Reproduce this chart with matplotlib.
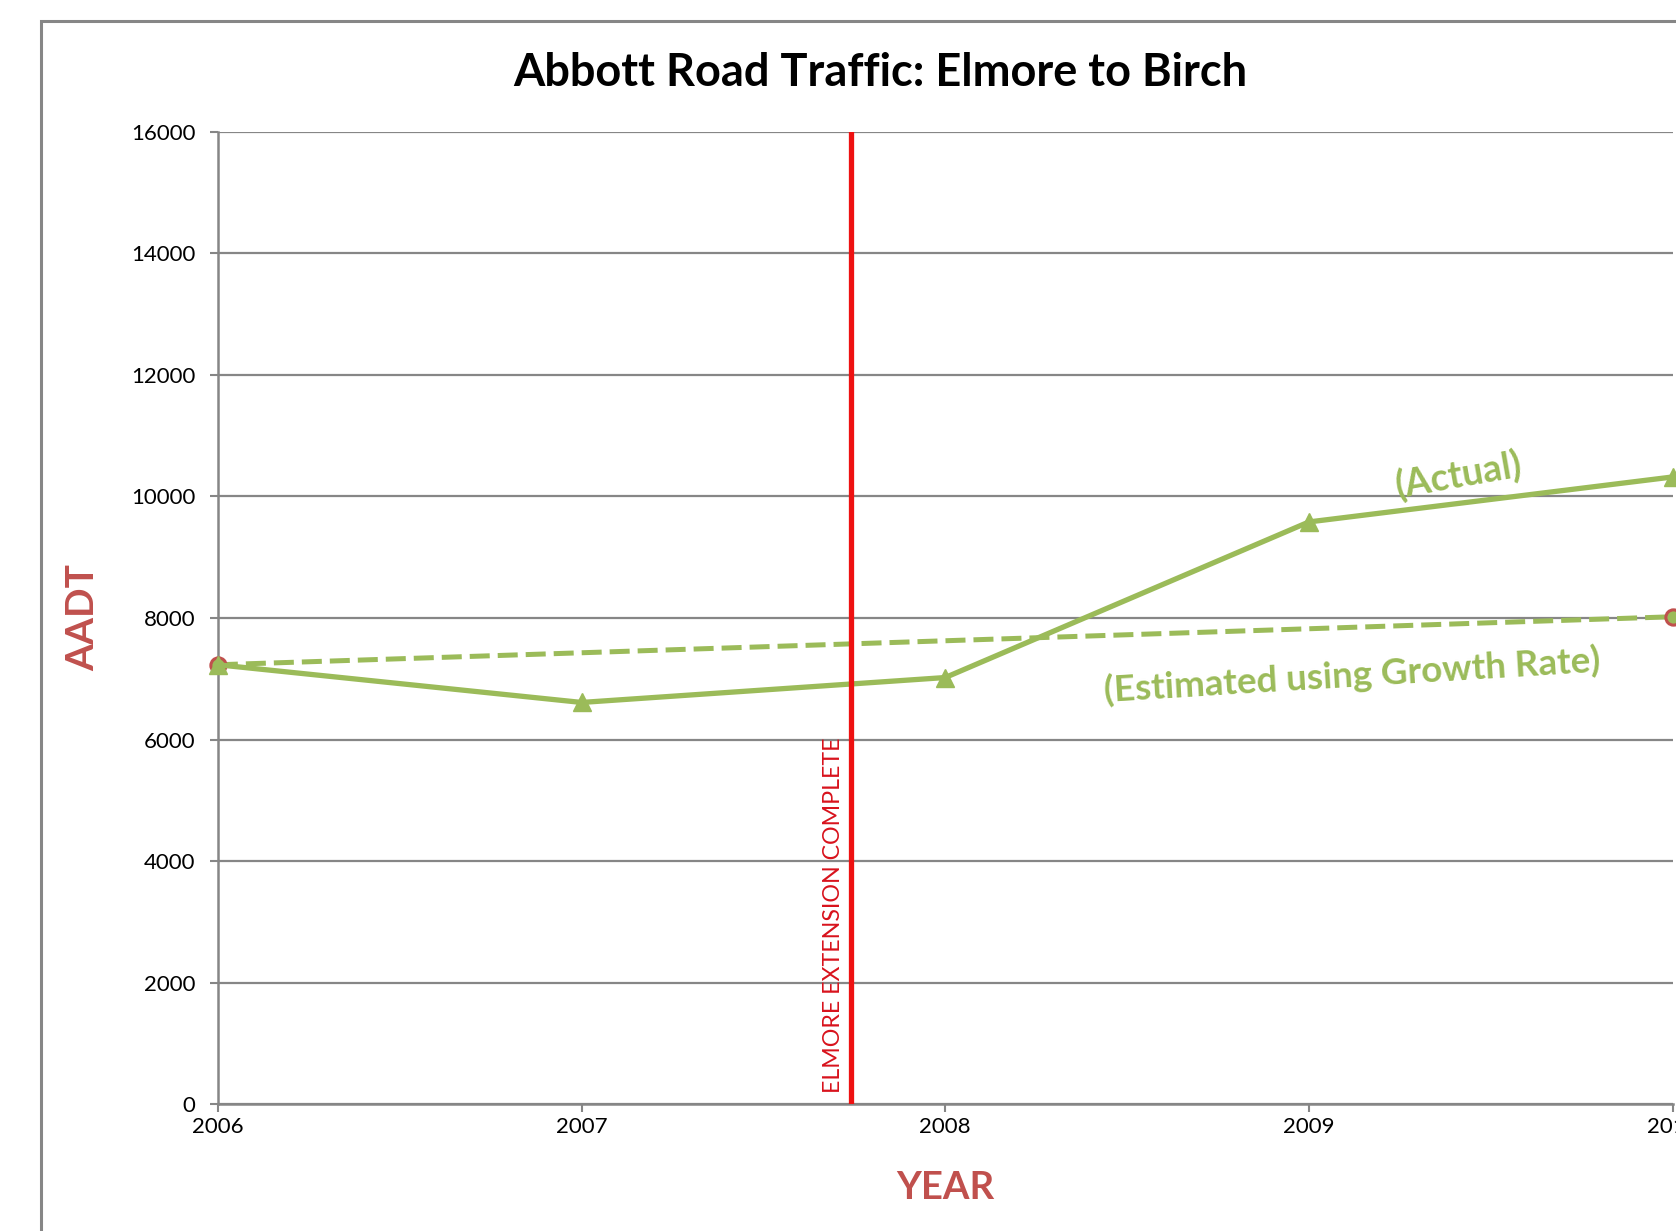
import numpy as np
import matplotlib.pyplot as plt
from matplotlib.patches import Rectangle

# Данные
years = [2006, 2007, 2008, 2009, 2010]
actual = [7230, 6610, 7020, 9580, 10320]
est_years = [2006, 2010]
estimated = [7230, 8020]
elmore_year = 2007.74
y_ticks = [0, 2000, 4000, 6000, 8000, 10000, 12000, 14000, 16000]

green = '#9BBB59'
brick = '#C0504D'
grey = '#868686'

plt.rcParams['font.family'] = ['Lato', 'DejaVu Sans']

fig = plt.figure(figsize=(16.76, 12.31), dpi=100)
# рамка диаграммы (обрезана справа и снизу)
fig.patches.append(Rectangle((0.0242, -0.2), 1.2, 0.983 + 0.2, transform=fig.transFigure,
                             fill=False, edgecolor=grey, linewidth=2.2))

ax = fig.add_axes([0.130, 0.103, 0.868, 0.790])

# Линии
ax.plot(years, actual, color=green, linewidth=3.8, marker='^', markersize=13,
        zorder=4, clip_on=False)
ax.plot(est_years, estimated, color=green, linewidth=3.6, linestyle=(0, (4, 1.6)),
        marker='o', markersize=11, markerfacecolor=green, markeredgecolor=brick,
        markeredgewidth=2.2, zorder=3, clip_on=False)
ax.axvline(elmore_year, color='#EE1111', linewidth=3.8, zorder=5)
ax.text(elmore_year - 0.018, 180, 'ELMORE EXTENSION COMPLETE', rotation=90,
        color='#D8121C', fontsize=16.7, ha='right', va='bottom')

ax.text(2009.41, 9870, '(Actual)', rotation=10, color=green, fontsize=27,
        fontweight='bold', ha='center', va='bottom')
ax.text(2009.12, 7060, '(Estimated using Growth Rate)', rotation=3.5, color=green,
        fontsize=26.5, fontweight='bold', ha='center', va='center')

ax.set_xlim(2006, 2010)
ax.set_ylim(0, 16000)
ax.set_xticks(years)
ax.set_yticks(y_ticks)
ax.grid(axis='y', color=grey, linewidth=1.6)
ax.set_axisbelow(True)
for side in ['top', 'right']:
    ax.spines[side].set_visible(False)
for side in ['left', 'bottom']:
    ax.spines[side].set_color(grey)
    ax.spines[side].set_linewidth(1.8)
ax.tick_params(colors=grey, labelcolor='black', labelsize=16, width=1.5, length=6)
ax.tick_params(axis='y', pad=10)

fig.text(0.5255, 0.941, 'Abbott Road Traffic: Elmore to Birch', fontsize=32.5,
         fontweight='bold', ha='center', va='center')
ax.set_xlabel('YEAR', fontsize=27.5, fontweight='bold', color=brick, labelpad=24)
ax.set_ylabel('AADT', fontsize=28, fontweight='bold', color=brick, labelpad=22)

fig.savefig('out.png', dpi=100)
